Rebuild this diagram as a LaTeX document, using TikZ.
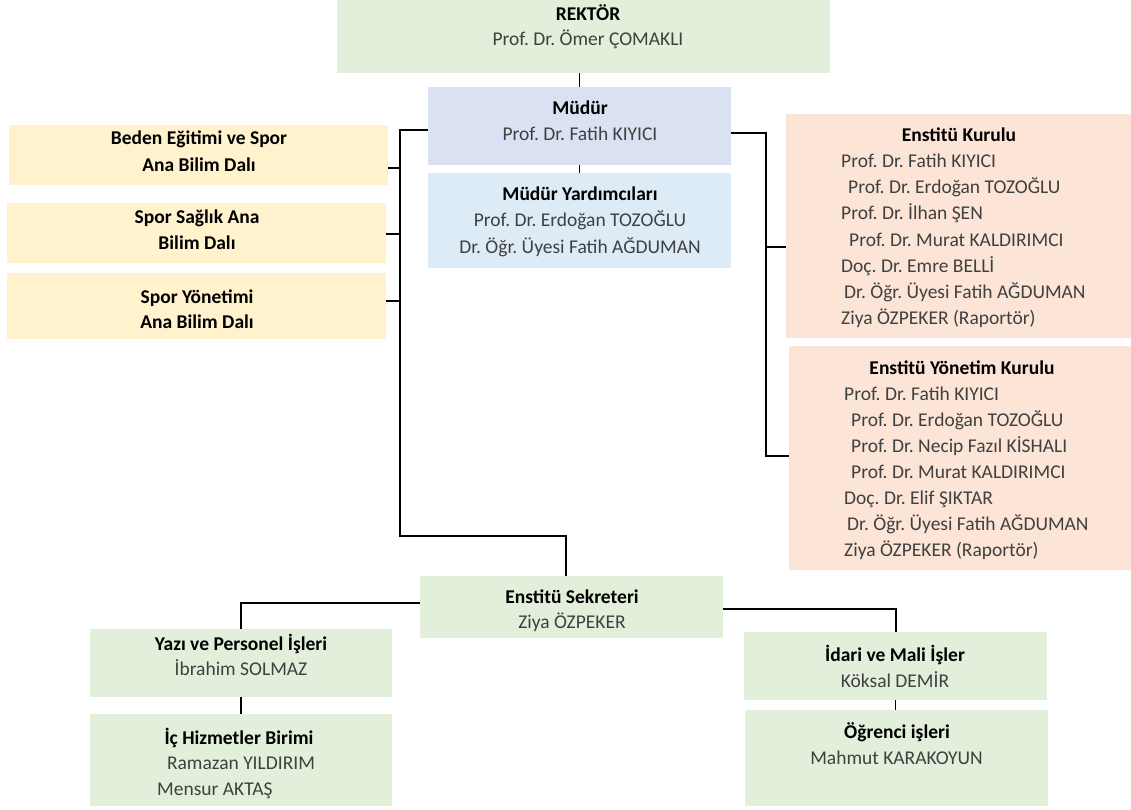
\documentclass[tikz,border=0pt]{standalone}
\usepackage{fontspec}
\setmainfont{Carlito}
\frenchspacing
\definecolor{cgreen}{HTML}{E2EFDA}
\definecolor{cblue}{HTML}{D9E1F2}
\definecolor{cblue2}{HTML}{DDEBF7}
\definecolor{cyellow}{HTML}{FFF2CC}
\definecolor{cpeach}{HTML}{FCE4D6}
\definecolor{namegrey}{HTML}{404040}
\begin{document}
\begin{tikzpicture}[x=1pt,y=-1pt,
  box/.style={draw=none, inner sep=0pt, outer sep=0pt},
  ttl/.style={anchor=base, inner sep=0pt, text=black, font=\fontsize{19.5}{26}\selectfont\frenchspacing\bfseries},
  nm/.style={anchor=base, inner sep=0pt, text=namegrey, font=\fontsize{19.5}{26}\selectfont\frenchspacing},
  nml/.style={nm, anchor=base west},
  conn/.style={line width=1.8pt, black}]
\useasboundingbox (0,0) rectangle (1131,810);
% boxes
\node[box, fill=cgreen, minimum width=493, minimum height=73] (rektor) at (583.5,36.5) {};
\node[box, fill=cblue, minimum width=303, minimum height=78] (mudur) at (579.5,126) {};
\node[box, fill=cblue2, minimum width=303, minimum height=95] (myard) at (579.5,220.5) {};
\node[box, fill=cyellow, minimum width=379, minimum height=60] (beden) at (198.5,155) {};
\node[box, fill=cyellow, minimum width=379, minimum height=60] (saglik) at (196.5,233) {};
\node[box, fill=cyellow, minimum width=379, minimum height=66] (yonetim) at (196.5,306) {};
\node[box, fill=cpeach, minimum width=345, minimum height=224] (kurul) at (958.5,226) {};
\node[box, fill=cpeach, minimum width=342, minimum height=224] (ykurul) at (960,458) {};
\node[box, fill=cgreen, minimum width=303, minimum height=62] (sekreter) at (571.5,607) {};
\node[box, fill=cgreen, minimum width=302, minimum height=68] (yazi) at (241,663) {};
\node[box, fill=cgreen, minimum width=302, minimum height=92] (ich) at (241,760) {};
\node[box, fill=cgreen, minimum width=303, minimum height=68] (idari) at (895.5,666) {};
\node[box, fill=cgreen, minimum width=303, minimum height=96] (ogr) at (896.5,758) {};
% texts
\node[ttl] (rektorT) at (588,21) {REKTÖR};
\node[nm] (rektorN) at (588,46) {Prof. Dr. Ömer ÇOMAKLI};
\node[ttl] (mudurT) at (580,115) {Müdür};
\node[nm] (mudurN) at (580,141) {Prof. Dr. Fatih KIYICI};
\node[ttl] (myardT) at (580,201) {Müdür Yardımcıları};
\node[nm] (myardN1) at (580,227) {Prof. Dr. Erdoğan TOZOĞLU};
\node[nm] (myardN2) at (580,253) {Dr. Öğr. Üyesi Fatih AĞDUMAN};
\node[ttl] (bedenT1) at (199,145) {Beden Eğitimi ve Spor};
\node[ttl] (bedenT2) at (199,172) {Ana Bilim Dalı};
\node[ttl] (saglikT1) at (197,223) {Spor Sağlık Ana};
\node[ttl] (saglikT2) at (197,249) {Bilim Dalı};
\node[ttl] (yonetimT1) at (197,303) {Spor Yönetimi};
\node[ttl] (yonetimT2) at (197,328) {Ana Bilim Dalı};
\node[ttl] (kurulT) at (959,142) {Enstitü Kurulu};
\node[nml] (k1) at (841,168) {Prof. Dr. Fatih KIYICI};
\node[nml] (k2) at (848,194) {Prof. Dr. Erdoğan TOZOĞLU};
\node[nml] (k3) at (841,220) {Prof. Dr. İlhan ŞEN};
\node[nml] (k4) at (849,246) {Prof. Dr. Murat KALDIRIMCI};
\node[nml] (k5) at (841,272) {Doç. Dr. Emre BELLİ};
\node[nml] (k6) at (844,298) {Dr. Öğr. Üyesi Fatih AĞDUMAN};
\node[nml] (k7) at (841,324) {Ziya ÖZPEKER (Raportör)};
\node[ttl] (ykurulT) at (962,374) {Enstitü Yönetim Kurulu};
\node[nml] (y1) at (844,400) {Prof. Dr. Fatih KIYICI};
\node[nml] (y2) at (851,426) {Prof. Dr. Erdoğan TOZOĞLU};
\node[nml] (y3) at (851,452) {Prof. Dr. Necip Fazıl KİSHALI};
\node[nml] (y4) at (851,478) {Prof. Dr. Murat KALDIRIMCI};
\node[nml] (y5) at (844,504) {Doç. Dr. Elif ŞIKTAR};
\node[nml] (y6) at (847,530) {Dr. Öğr. Üyesi Fatih AĞDUMAN};
\node[nml] (y7) at (844,556) {Ziya ÖZPEKER (Raportör)};
\node[ttl] (sekreterT) at (572,603) {Enstitü Sekreteri};
\node[nm] (sekreterN) at (572,628) {Ziya ÖZPEKER};
\node[ttl] (yaziT) at (241,650) {Yazı ve Personel İşleri};
\node[nm] (yaziN) at (241,675) {İbrahim SOLMAZ};
\node[ttl] (ichT) at (239,744) {İç Hizmetler Birimi};
\node[nm] (ichN1) at (241,769) {Ramazan YILDIRIM};
\node[nml] (ichN2) at (157,795) {Mensur AKTAŞ};
\node[ttl] (idariT) at (895,661) {İdari ve Mali İşler};
\node[nm] (idariN) at (895,687) {Köksal DEMİR};
\node[ttl] (ogrT) at (897,738) {Öğrenci işleri};
\node[nm] (ogrN) at (896.5,764) {Mahmut KARAKOYUN};
% connectors
\coordinate (lt) at (400,130);
\coordinate (lb) at (400,536);
\coordinate (b1) at (400,168);
\coordinate (b2) at (400,234);
\coordinate (b3) at (400,301);
\coordinate (rt) at (766,133);
\coordinate (rb) at (766,456);
\coordinate (r1) at (766,247);
\coordinate (sl) at (241,603);
\coordinate (sr) at (896,609);
\coordinate (sk) at (566,536);
\draw[conn] (mudur.north) -- (mudur.north |- rektor.south);
\draw[conn] (mudur.south) -- (myard.north);
\draw[conn] (mudur.west |- lt) -- (lt) -- (lb) -- (sk) -- (sk |- sekreter.north);
\draw[conn] (beden.east |- b1) -- (b1);
\draw[conn] (saglik.east |- b2) -- (b2);
\draw[conn] (yonetim.east |- b3) -- (b3);
\draw[conn] (mudur.east |- rt) -- (rt) -- (rb) -- (ykurul.west |- rb);
\draw[conn] (r1) -- (kurul.west |- r1);
\draw[conn] (sekreter.west |- sl) -- (sl) -- (yazi.north);
\draw[conn] (yazi.south) -- (ich.north);
\draw[conn] (sekreter.east |- sr) -- (sr) -- (sr |- idari.north);
\draw[conn] (idari.south) -- (idari.south |- ogr.north);
\end{tikzpicture}
\end{document}
